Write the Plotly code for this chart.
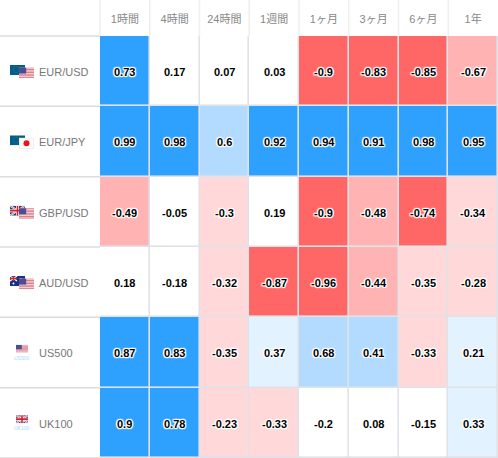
import base64
import plotly.graph_objects as go

periods = ["1時間", "4時間", "24時間", "1週間", "1ヶ月", "3ヶ月", "6ヶ月", "1年"]
symbols = ["EUR/USD", "EUR/JPY", "GBP/USD", "AUD/USD", "US500", "UK100"]
eur_usd = [0.73, 0.17, 0.07, 0.03, -0.9, -0.83, -0.85, -0.67]
eur_jpy = [0.99, 0.98, 0.6, 0.92, 0.94, 0.91, 0.98, 0.95]
gbp_usd = [-0.49, -0.05, -0.3, 0.19, -0.9, -0.48, -0.74, -0.34]
aud_usd = [0.18, -0.18, -0.32, -0.87, -0.96, -0.44, -0.35, -0.28]
us500 = [0.87, 0.83, -0.35, 0.37, 0.68, 0.41, -0.33, 0.21]
uk100 = [0.9, 0.78, -0.23, -0.33, -0.2, 0.08, -0.15, 0.33]
rows = [eur_usd, eur_jpy, gbp_usd, aud_usd, us500, uk100]

W, H = 498, 458
L, T = 100, 36
colorscale_bins = [(-1, -0.7, "#ff6666"), (-0.7, -0.4, "#ffb3b3"), (-0.4, -0.21, "#ffd9d9"),
                   (-0.21, 0.2, "#ffffff"), (0.2, 0.4, "#e3f2ff"), (0.4, 0.7, "#b3dbff"), (0.7, 1, "#2ea1ff")]
cs = []
for lo, hi, c in colorscale_bins:
    cs += [[(lo + 1) / 2, c], [(hi + 1) / 2, c]]

fig = go.Figure()
fig.add_trace(go.Heatmap(z=rows, x=periods, y=symbols, colorscale=cs, zmin=-1, zmax=1,
                         showscale=False, xgap=1.6, ygap=1.6, hoverinfo="skip"))

halo = "1px 0 1px #fff, -1px 0 1px #fff, 0 1px 1px #fff, 0 -1px 1px #fff, 1px 1px 1px #fff, -1px -1px 1px #fff, 1px -1px 1px #fff, -1px 1px 1px #fff"
ann = []
for s, r in zip(symbols, rows):
    for p, v in zip(periods, r):
        ann.append(dict(x=p, y=s, xref="x", yref="y", text=str(v), showarrow=False, yshift=-0.8,
                        font=dict(family="Liberation Sans, Arial, sans-serif", size=11, color="#000",
                                  weight="bold", shadow=halo)))


def uri(svg):
    return "data:image/svg+xml;base64," + base64.b64encode(svg.encode()).decode()


def flag_usa(w=15, h=11):
    stripes = "".join(f'<rect y="{i*h/7:.2f}" width="{w}" height="{h/14:.2f}" fill="#d9606e"/>' for i in range(7))
    return (f'<svg xmlns="http://www.w3.org/2000/svg" width="{w}" height="{h}"><rect width="{w}" height="{h}" fill="#f4eef0"/>'
            f'{stripes}<rect width="{w*0.48:.1f}" height="{h*0.55:.1f}" fill="#4a4f93"/></svg>')


def flag_eur():
    return ('<svg xmlns="http://www.w3.org/2000/svg" width="15" height="10"><rect width="15" height="10" fill="#045b8f"/>'
            '<circle cx="6" cy="4.5" r="3" fill="none" stroke="#3f7f55" stroke-width="1" stroke-dasharray="1 1"/></svg>')


def flag_jpy():
    return ('<svg xmlns="http://www.w3.org/2000/svg" width="15" height="11"><rect width="15" height="11" fill="#fbfbfb" stroke="#e4e4e4"/>'
            '<circle cx="7.5" cy="5.5" r="3" fill="#e8141c"/></svg>')


def flag_gbp(w=15, h=10):
    return (f'<svg xmlns="http://www.w3.org/2000/svg" width="{w}" height="{h}"><rect width="{w}" height="{h}" fill="#2b3a80"/>'
            f'<path d="M0 0L{w} {h}M{w} 0L0 {h}" stroke="#fff" stroke-width="2"/><path d="M0 0L{w} {h}M{w} 0L0 {h}" stroke="#d33" stroke-width="0.7"/>'
            f'<path d="M{w/2} 0V{h}M0 {h/2}H{w}" stroke="#fff" stroke-width="3"/><path d="M{w/2} 0V{h}M0 {h/2}H{w}" stroke="#d3202c" stroke-width="1.6"/></svg>')


def flag_aud():
    return ('<svg xmlns="http://www.w3.org/2000/svg" width="15" height="10"><rect width="15" height="10" fill="#1b2f8f"/>'
            '<path d="M0 0L7 5M7 0L0 5" stroke="#fff" stroke-width="1.2"/><path d="M3.5 0V5M0 2.5H7" stroke="#d3202c" stroke-width="1.3"/>'
            '<circle cx="3.5" cy="7.5" r="1" fill="#fff"/><circle cx="11" cy="3" r=".7" fill="#fff"/><circle cx="11" cy="7.5" r=".7" fill="#fff"/></svg>')


def add_img(svg, px, py, w, h):
    fig.add_layout_image(source=uri(svg), xref="paper", yref="paper", x=(px - L) / (W - L), y=(H - py) / (H - T),
                         sizex=w / (W - L), sizey=h / (H - T), xanchor="left", yanchor="top", sizing="stretch", layer="above")


row_h = (H - T) / 6
pairs = [(flag_eur(), flag_usa()), (flag_eur(), flag_jpy()), (flag_gbp(), flag_usa()), (flag_aud(), flag_usa())]
for i, (a, b) in enumerate(pairs):
    top = T + row_h * i
    add_img(a, 10, top + 29, 15, 10)
    add_img(b, 19, top + 31.5, 15, 11)
for i, fl in zip([4, 5], [flag_usa(12, 8), flag_gbp(12, 8)]):
    top = T + row_h * i
    add_img(fl, 16, top + 27.5, 12, 8)

for i, s in enumerate(symbols):
    yc = H - (T + row_h * i + 36)
    ann.append(dict(x=(37 - L) / (W - L), y=yc / (H - T), xref="paper", yref="paper", text=s, showarrow=False,
                    xanchor="left", yanchor="middle", font=dict(family="Liberation Sans, Arial, sans-serif", size=11, color="#777")))
for i in [4, 5]:
    yc = H - (T + row_h * i + 40.5)
    ann.append(dict(x=(22 - L) / (W - L), y=yc / (H - T), xref="paper", yref="paper", text=symbols[i], showarrow=False,
                    xanchor="center", yanchor="middle", font=dict(family="Liberation Sans, Arial, sans-serif", size=5, color="#9fdcf5")))

shapes = []
for i in range(7):
    y = (i * row_h) / (H - T)
    shapes.append(dict(type="line", xref="paper", yref="paper", x0=-L / (W - L), x1=0, y0=y, y1=y,
                       line=dict(color="#dcdcdc", width=1.5)))
for i in range(8):
    x = i / 8
    shapes.append(dict(type="line", xref="paper", yref="paper", x0=x, x1=x, y0=1, y1=1 + T / (H - T),
                       line=dict(color="#efefef", width=1.5)))

fig.update_layout(
    width=W, height=H, margin=dict(l=L, r=0, t=T, b=0), autosize=False,
    paper_bgcolor="#ffffff", plot_bgcolor="#dfe2e6", showlegend=False,
    font=dict(family="Liberation Sans, Noto Sans CJK JP, sans-serif"),
    annotations=ann, shapes=shapes,
    xaxis=dict(side="top", type="category", ticks="", showgrid=False, zeroline=False, range=[-0.5, 7.5],
               tickfont=dict(family="Liberation Sans, Noto Sans CJK JP, sans-serif", size=11, color="#888"), ticklabelstandoff=10, tickangle=0),
    yaxis=dict(type="category", autorange=False, range=[5.5, -0.5], showticklabels=False, ticks="", showgrid=False, zeroline=False),
)
fig.write_html("out.html", config=dict(displayModeBar=False),
               post_script="document.body.style.margin='0';document.body.style.overflow='hidden';")
